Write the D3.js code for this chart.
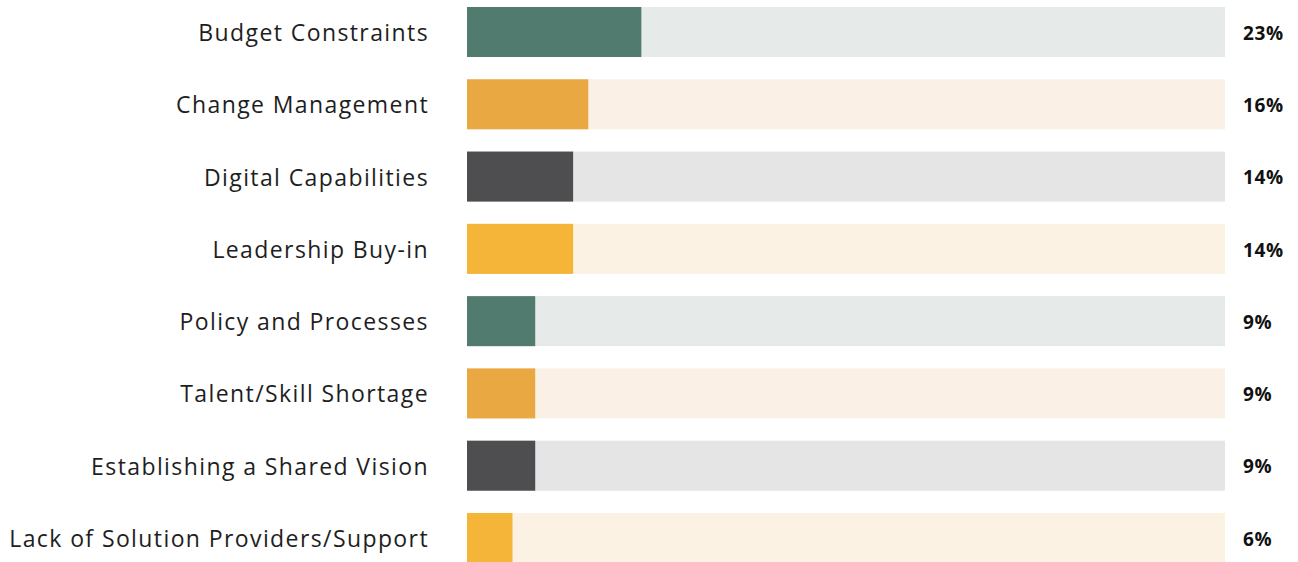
<!DOCTYPE html>
<html>
<head>
<meta charset="utf-8">
<script src="https://cdn.jsdelivr.net/npm/d3@7"></script>
<style>
  body { margin: 0; background: #fff; }
  text { font-family: "Open Sans", sans-serif; }
</style>
</head>
<body>
<div id="chart"></div>
<script>
// data
var categories = ["Budget Constraints", "Change Management", "Digital Capabilities", "Leadership Buy-in",
                  "Policy and Processes", "Talent/Skill Shortage", "Establishing a Shared Vision",
                  "Lack of Solution Providers/Support"];
var values = [23, 16, 14, 14, 9, 9, 9, 6];
var barColors = ["#527b6f", "#eaa843", "#4e4d4f", "#f5b538"];
var trackColors = ["#e6eae8", "#fbf0e5", "#e5e5e5", "#fcf2e3"];

var width = 1298, height = 562;

var svg = d3.select("#chart").append("svg")
    .attr("width", width)
    .attr("height", height);

var xScale = d3.scaleLinear().domain([0, 100]).range([467, 1225]);
var yScale = d3.scaleBand().domain(categories).range([7, 563]).paddingInner(0.308).paddingOuter(0);

var rows = svg.selectAll(".row")
    .data(categories)
    .enter().append("g")
    .attr("class", "row")
    .attr("transform", d => "translate(0," + yScale(d) + ")");

// background track
rows.append("rect")
    .attr("x", xScale(0))
    .attr("width", xScale(100) - xScale(0))
    .attr("height", yScale.bandwidth())
    .attr("fill", (d, i) => trackColors[i % 4]);

// value bar
rows.append("rect")
    .attr("x", xScale(0))
    .attr("width", (d, i) => xScale(values[i]) - xScale(0))
    .attr("height", yScale.bandwidth())
    .attr("fill", (d, i) => barColors[i % 4]);

rows.append("text")
    .attr("x", 429)
    .attr("y", yScale.bandwidth() / 2 + 1)
    .attr("dy", "0.35em")
    .attr("text-anchor", "end")
    .style("font-size", "23px")
    .style("letter-spacing", "1.4px")
    .style("fill", "#1e1e1e")
    .text(d => d);

rows.append("text")
    .attr("x", 1243)
    .attr("y", yScale.bandwidth() / 2 + 1)
    .attr("dy", "0.35em")
    .style("font-size", "19px")
    .style("font-weight", "bold")
    .style("letter-spacing", "0.6px")
    .style("fill", "#111")
    .text((d, i) => values[i] + "%");
</script>
</body>
</html>
